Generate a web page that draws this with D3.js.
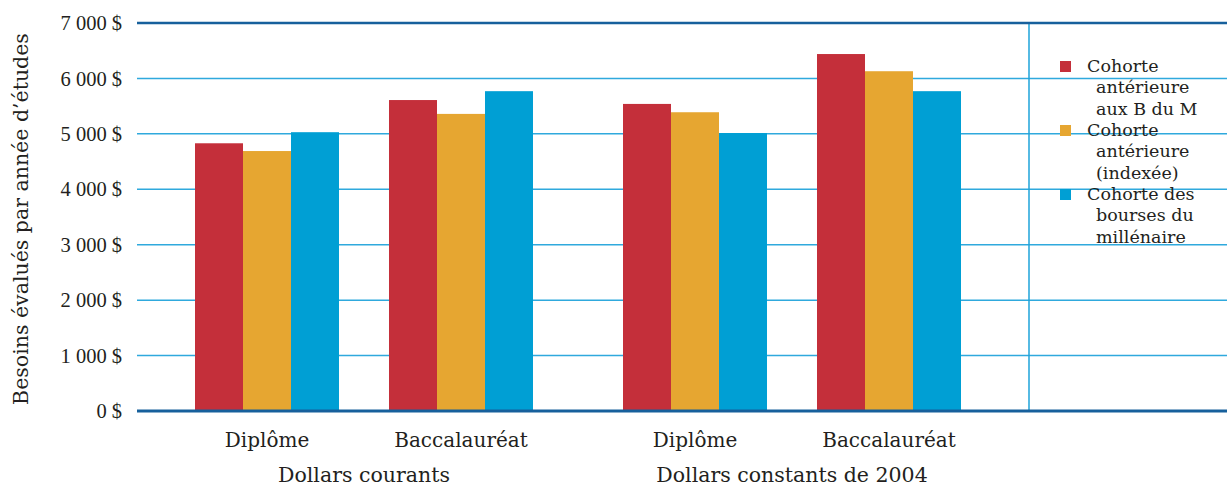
<!DOCTYPE html>
<html><head><meta charset="utf-8">
<script src="https://cdn.jsdelivr.net/npm/d3@7"></script>
<style>body{margin:0;background:#fff}svg{display:block}</style>
</head><body><svg id="c" width="1227" height="487"></svg>
<script>
const sections = ["Dollars courants", "Dollars constants de 2004"];
const levels = ["Diplôme", "Baccalauréat"];
const seriesNames = ["Cohorte antérieure aux B du M", "Cohorte antérieure (indexée)", "Cohorte des bourses du millénaire"];
const legendLines = [["Cohorte", "antérieure", "aux B du M"], ["Cohorte", "antérieure", "(indexée)"], ["Cohorte des", "bourses du", "millénaire"]];
// values per series, ordered: courants-Diplôme, courants-Bacc, constants-Diplôme, constants-Bacc
const anterieureBM = [4830, 5610, 5540, 6440];
const anterieureIndexee = [4690, 5360, 5390, 6130];
const boursesMillenaire = [5030, 5770, 5015, 5770];
const yTicks = [0, 1000, 2000, 3000, 4000, 5000, 6000, 7000];
const colors = ["#C42F3A", "#E6A631", "#009FD4"];
const yTitle = "Besoins évalués par année d’études";

const svg = d3.select("#c");
const plotL = 137, plotR = 1227, plotT = 23, plotB = 411, legendX = 1029;
const textColor = "#231f20";

const y = d3.scaleLinear().domain([0, 7000]).range([plotB, plotT]);
const xSection = d3.scaleBand().domain(sections).range([150, 1006]).padding(0);
const xLevel = d3.scaleBand().domain(levels).range([0, xSection.bandwidth()]).paddingInner(0.2577).paddingOuter(0.232);
const xSeries = d3.scaleBand().domain(seriesNames).range([0, xLevel.bandwidth()]).padding(0);

// gridlines
svg.append("g").selectAll("line").data(yTicks.filter(d => d > 0 && d < 7000)).join("line")
  .attr("x1", plotL).attr("x2", plotR).attr("y1", d => y(d)).attr("y2", d => y(d))
  .attr("stroke", "#2fa9dd").attr("stroke-width", 1.5);

// data rows
const rows = [];
const allSeries = [anterieureBM, anterieureIndexee, boursesMillenaire];
sections.forEach((s, si) => levels.forEach((l, li) => {
  const idx = si * 2 + li;
  seriesNames.forEach((n, ni) => rows.push({section: s, level: l, series: n, ni, value: allSeries[ni][idx]}));
}));

svg.append("g").selectAll("rect").data(rows).join("rect")
  .attr("x", d => xSection(d.section) + xLevel(d.level) + xSeries(d.series))
  .attr("width", xSeries.bandwidth())
  .attr("y", d => y(d.value)).attr("height", d => y(0) - y(d.value))
  .attr("fill", d => colors[d.ni]);

// vertical legend separator
svg.append("line").attr("x1", legendX).attr("x2", legendX).attr("y1", plotT).attr("y2", plotB)
  .attr("stroke", "#1ea3da").attr("stroke-width", 1.5);

// top and bottom lines
svg.append("line").attr("x1", plotL).attr("x2", plotR).attr("y1", y(7000)).attr("y2", y(7000))
  .attr("stroke", "#17609c").attr("stroke-width", 2.5);
svg.append("line").attr("x1", plotL).attr("x2", plotR).attr("y1", y(0)).attr("y2", y(0))
  .attr("stroke", "#17609c").attr("stroke-width", 3);

// y tick labels
svg.append("g").selectAll("text").data(yTicks).join("text")
  .attr("x", 122).attr("y", d => y(d)).attr("dy", "0.35em").attr("text-anchor", "end")
  .attr("font-family", "Liberation Serif").attr("font-size", 20.5).attr("fill", textColor)
  .text(d => d === 0 ? "0 $" : d3.format(",")(d).replace(/,/g, " ") + " $");

// y title
svg.append("text").attr("transform", `translate(28,${(plotT + plotB) / 2 + 2}) rotate(-90)`)
  .attr("text-anchor", "middle").attr("font-family", "DejaVu Serif").attr("font-size", 20.5)
  .attr("fill", textColor).text(yTitle);

// category labels
const catRows = [];
sections.forEach(s => levels.forEach(l => catRows.push({s, l})));
svg.append("g").selectAll("text").data(catRows).join("text")
  .attr("x", d => xSection(d.s) + xLevel(d.l) + xLevel.bandwidth() / 2).attr("y", 447)
  .attr("text-anchor", "middle").attr("font-family", "DejaVu Serif").attr("font-size", 20)
  .attr("fill", textColor).text(d => d.l);
svg.append("g").selectAll("text").data(sections).join("text")
  .attr("x", d => xSection(d) + xSection.bandwidth() / 2).attr("y", 482)
  .attr("text-anchor", "middle").attr("font-family", "DejaVu Serif").attr("font-size", 20.5)
  .attr("fill", textColor).text(d => d);

// legend
const lg = svg.append("g").selectAll("g").data(seriesNames).join("g")
  .attr("transform", (d, i) => `translate(1060,${61 + i * 64})`);
lg.append("rect").attr("width", 11).attr("height", 11).attr("fill", (d, i) => colors[i]);
lg.each(function(d, i) {
  const g = d3.select(this);
  legendLines[i].forEach((t, k) => {
    g.append("text").attr("x", k === 0 ? 27 : 36).attr("y", 11 + k * 21.3)
      .attr("font-family", "DejaVu Serif").attr("font-size", 17.5).attr("fill", textColor).text(t);
  });
});
</script></body></html>
